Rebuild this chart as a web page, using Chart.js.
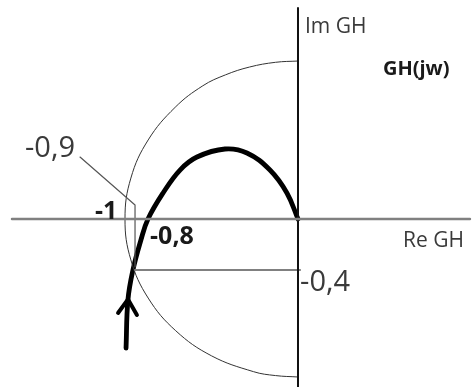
<!DOCTYPE html>
<html>
<head>
<meta charset="utf-8">
<script src="https://cdn.jsdelivr.net/npm/chart.js@4"></script>
<style>
  html, body { margin: 0; padding: 0; background: #fff; }
  #wrap { position: relative; width: 472px; height: 387px; }
</style>
</head>
<body>
<div id="wrap"><canvas id="nyquist"></canvas></div>
<script>
// Re GH / Im GH values
const reAxis = [{ x: -1.653, y: 0 }, { x: 0.994, y: 0 }];
const imAxis = [{ x: 0, y: 1.655 }, { x: 0, y: -1.32 }];

// unit circle (drawn slightly squashed in the sketch)
const unitCircle = [
    { x: 0, y: 1.239 }, { x: -0.13, y: 1.229 }, { x: -0.28, y: 1.192 },
    { x: -0.42, y: 1.13 }, { x: -0.55, y: 1.045 },
    { x: -0.71, y: 0.876 }, { x: -0.866, y: 0.62 }, { x: -0.966, y: 0.321 },
    { x: -1, y: 0 }, { x: -0.966, y: -0.321 }, { x: -0.866, y: -0.62 },
    { x: -0.707, y: -0.876 }, { x: -0.5, y: -1.073 }, { x: -0.258, y: -1.197 },
    { x: -0.13, y: -1.228 }, { x: 0, y: -1.239 }
];

// GH(jw) locus
const ghLocus = [
    { x: 0, y: 0 }, { x: -0.064, y: 0.204 }, { x: -0.162, y: 0.384 },
    { x: -0.295, y: 0.518 }, { x: -0.422, y: 0.549 }, { x: -0.584, y: 0.486 },
    { x: -0.682, y: 0.384 }, { x: -0.78, y: 0.204 }, { x: -0.867, y: 0 },
    { x: -0.908, y: -0.165 }, { x: -0.954, y: -0.4 }, { x: -0.983, y: -0.635 },
    { x: -0.994, y: -1.012 }
];
const arrowHead = [{ x: -1.04, y: -0.737 }, { x: -0.983, y: -0.63 }, { x: -0.931, y: -0.753 }];

// -0,4 level and -0,9 pointer
const levelLine = [{ x: -0.942, y: -0.4 }, { x: 0.012, y: -0.4 }];
const pointer09 = [{ x: -1.26, y: 0.486 }, { x: -0.942, y: 0.11 }, { x: -0.942, y: -0.376 }];

const labels = [
    { text: 'Im GH', x: 0.04, y: 1.459, font: '21px "Open Sans"', color: '#3a3a3a' },
    { text: 'GH(jw)', x: 0.491, y: 1.129, font: 'bold 20px "Open Sans"', color: '#1a1a1a' },
    { text: '-0,9', x: -1.578, y: 0.486, font: '29px "Open Sans"', color: '#3a3a3a' },
    { text: '-1', x: -1.173, y: 0, font: 'bold 25px "Open Sans"', color: '#1a1a1a' },
    { text: '-0,8', x: -0.855, y: -0.196, font: 'bold 25px "Open Sans"', color: '#1a1a1a' },
    { text: 'Re GH', x: 0.607, y: -0.22, font: '21px "Open Sans"', color: '#3a3a3a' },
    { text: '-0,4', x: 0.012, y: -0.565, font: '29px "Open Sans"', color: '#3a3a3a' }
];

const textPlugin = {
    id: 'sketchText',
    afterDatasetsDraw(chart) {
        const { ctx, scales: { x, y } } = chart;
        ctx.save();
        ctx.textBaseline = 'alphabetic';
        ctx.textAlign = 'left';
        labels.forEach(l => {
            ctx.font = l.font;
            ctx.fillStyle = l.color;
            ctx.fillText(l.text, x.getPixelForValue(l.x), y.getPixelForValue(l.y));
        });
        ctx.restore();
    }
};

const line = (data, color, width, tension = 0) => ({
    data, borderColor: color, borderWidth: width, showLine: true,
    pointRadius: 0, tension, fill: false, borderCapStyle: 'round', borderJoinStyle: 'round'
});

new Chart(document.getElementById('nyquist').getContext('2d'), {
    type: 'scatter',
    data: {
        datasets: [
            line(reAxis, '#808080', 2.5),
            line(imAxis, '#111', 2),
            line(levelLine, '#808080', 2),
            line(pointer09, '#555', 1.2),
            line(unitCircle, '#333', 1, 0.4),
            line(ghLocus, '#000', 4.8, 0.4),
            line(arrowHead, '#000', 4)
        ]
    },
    options: {
        responsive: true,
        maintainAspectRatio: false,
        animation: false,
        layout: { padding: 0 },
        scales: {
            x: { type: 'linear', min: -1.7225, max: 1.0058, display: false },
            y: { type: 'linear', min: -1.3176, max: 1.7176, display: false }
        },
        plugins: { legend: { display: false }, tooltip: { enabled: false } }
    },
    plugins: [textPlugin]
});
</script>
</body>
</html>
